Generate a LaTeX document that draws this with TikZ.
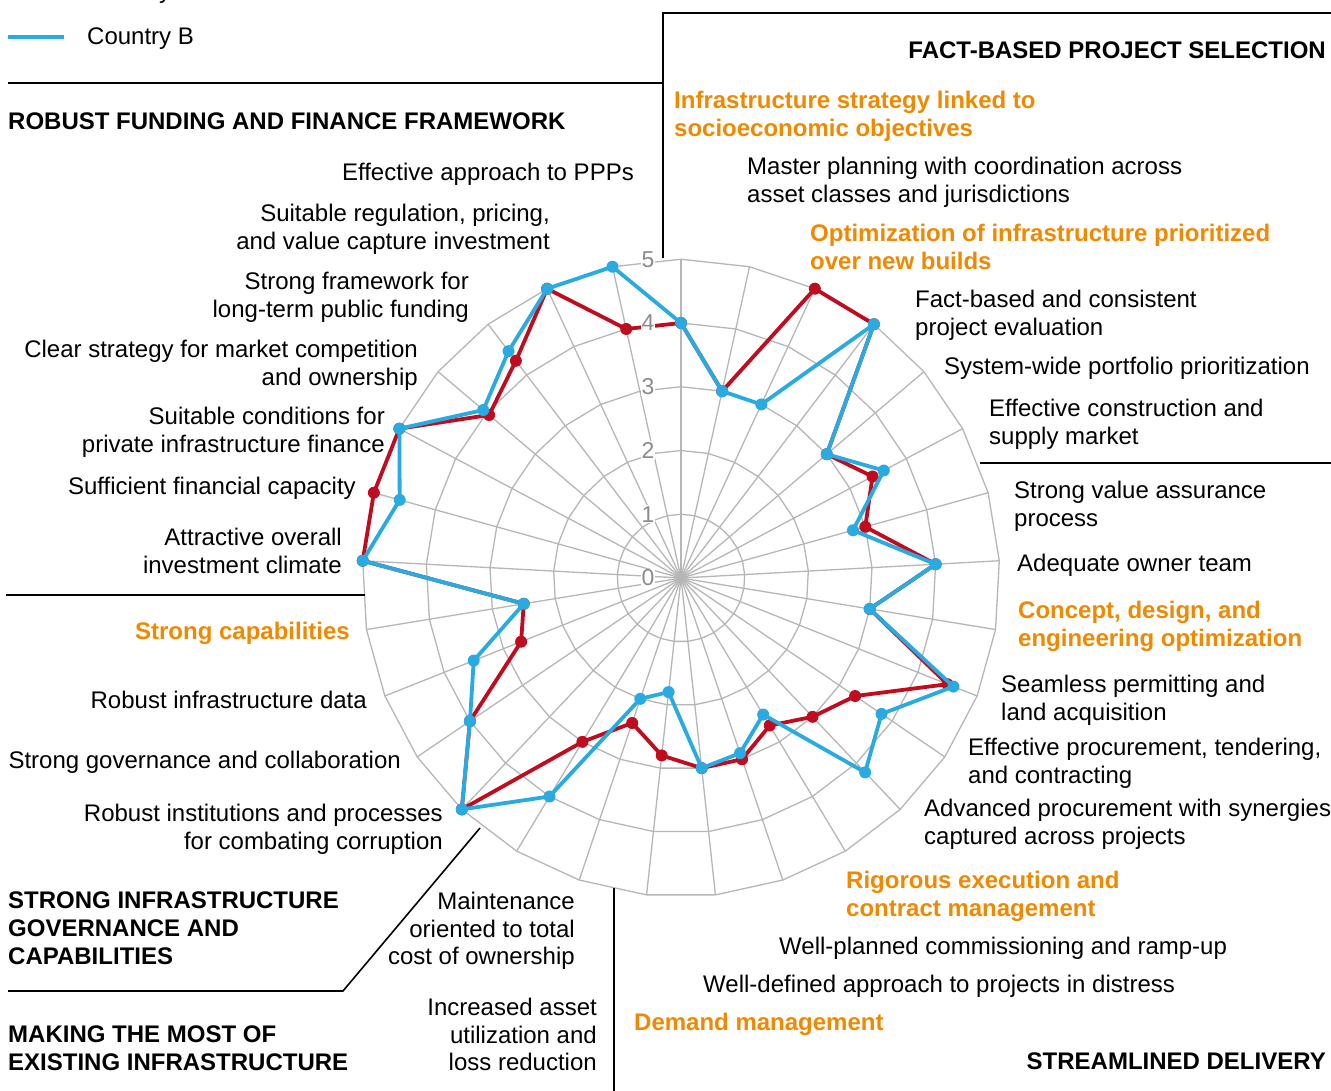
\documentclass[tikz,border=0pt]{standalone}
\usepackage{fontspec}
\setmainfont{Liberation Sans}
\definecolor{cA}{RGB}{192,12,31}
\definecolor{cB}{RGB}{41,170,225}
\definecolor{hiorange}{RGB}{240,136,0}
\definecolor{gridgray}{RGB}{182,182,182}
\definecolor{tickgray}{RGB}{140,140,140}
\tikzset{
  gridline/.style={draw=gridgray, line width=1.3pt},
  dataA/.style={draw=cA, line width=3.8pt, line join=round},
  dataB/.style={draw=cB, line width=3.8pt, line join=round},
  divider/.style={draw=black, line width=1.6pt},
  lbl/.style={font=\fontsize{24}{27.6}\selectfont, inner sep=0pt},
  lbll/.style={lbl, align=left, anchor=north west},
  lblr/.style={lbl, align=right, anchor=north east},
  hilite/.style={text=hiorange, font=\fontsize{24}{27.6}\selectfont\bfseries},
  header/.style={font=\fontsize{24}{27.6}\selectfont\bfseries},
  tick/.style={text=tickgray, font=\fontsize{23}{23}\selectfont, fill=white, inner sep=1pt},
}
\begin{document}
\begin{tikzpicture}[x=1pt,y=-1pt]
  \useasboundingbox (0,0) rectangle (1331,1091);
  \clip (0,0) rectangle (1331,1091);
  \coordinate (O) at (681,578);

  % 网格
  \foreach \r in {1,...,5}
    \draw[gridline, line join=round] plot[samples=30, domain=0:29]
      ({681+63.75*\r*sin(\x*360/29)}, {578-63.75*\r*cos(\x*360/29)});
  \foreach \k in {0,...,28} {
    \coordinate (s\k) at ({681+318.75*sin(\k*360/29)}, {578-318.75*cos(\k*360/29)});
    \draw[gridline] (O) -- (s\k);
  }

  % Country A
  \foreach \v [count=\k from 0] in {4,3,5,5,3,3.4,3.0,4,3,4.5,3.3,3.0,2.7,3.0,3,2.8,2.4,3,5,4,2.7,2.5,5,5,5,3.95,4.28,5,4}
    \coordinate (a\k) at ({681+63.75*\v*sin(\k*360/29)}, {578-63.75*\v*cos(\k*360/29)});
  \draw[dataA] (a0) \foreach \k in {1,...,28} {-- (a\k)} -- cycle;
  \foreach \k in {0,...,28} \fill[cA] (a\k) circle[radius=6pt];

  % Country B
  \foreach \v [count=\k from 0] in {4,3,3,5,3,3.6,2.8,4,3,4.6,3.8,4.2,2.5,2.9,3,1.8,2.0,4,5,4,3.5,2.5,5,4.58,5,4.07,4.47,5,5}
    \coordinate (b\k) at ({681+63.75*\v*sin(\k*360/29)}, {578-63.75*\v*cos(\k*360/29)});
  \draw[dataB] (b0) \foreach \k in {1,...,28} {-- (b\k)} -- cycle;
  \foreach \k in {0,...,28} \fill[cB] (b\k) circle[radius=6pt];

  % 刻度
  \foreach \t in {0,...,5}
    \node[tick] (t\t) at (648,{578-63.75*\t}) {\t};

  % 图例
  \draw[dataA] (8,-9) -- (64,-9);
  \node[lbll] (legA) at (87,-18) {Country A};
  \draw[dataB] (8,37) -- (64,37);
  \node[lbll] (legB) at (87,28) {Country B};

  % 分隔线
  \draw[divider] (8,83) -- (663,83);
  \draw[divider] (663,258) -- (663,13) -- (1331,13);
  \draw[divider] (980,463) -- (1331,463);
  \draw[divider] (6,595) -- (365,595);
  \draw[divider] (480,828) -- (343,991) -- (8,991);
  \draw[divider] (614,888) -- (614,1091);

  % 右侧标签
  \node[lblr, header] (hSel) at (1326,42) {FACT-BASED PROJECT SELECTION};
  \node[lbll, hilite] (l0) at (674,91) {Infrastructure strategy linked to\\socioeconomic objectives};
  \node[lbll] (l1) at (747,157) {Master planning with coordination across\\asset classes and jurisdictions};
  \node[lbll, hilite] (l2) at (810,224) {Optimization of infrastructure prioritized\\over new builds};
  \node[lbll] (l3) at (915,290) {Fact-based and consistent\\project evaluation};
  \node[lbll] (l4) at (944,357) {System-wide portfolio prioritization};
  \node[lbll] (l5) at (989,399) {Effective construction and\\supply market};
  \node[lbll] (l6) at (1014,481) {Strong value assurance\\process};
  \node[lbll] (l7) at (1017,554) {Adequate owner team};
  \node[lbll, hilite] (l8) at (1018,601) {Concept, design, and\\engineering optimization};
  \node[lbll] (l9) at (1001,675) {Seamless permitting and\\land acquisition};
  \node[lbll] (l10) at (968,738) {Effective procurement, tendering,\\and contracting};
  \node[lbll] (l11) at (924,799) {Advanced procurement with synergies\\captured across projects};
  \node[lbll, hilite] (l12) at (846,871) {Rigorous execution and\\contract management};
  \node[lbll] (l13) at (779,937) {Well-planned commissioning and ramp-up};
  \node[lbll] (l14) at (703,975) {Well-defined approach to projects in distress};
  \node[lbll, hilite] (l15) at (634,1013) {Demand management};
  \node[lblr, header] (hDel) at (1326,1053) {STREAMLINED DELIVERY};

  % 左侧标签
  \node[lbll, header] (hFin) at (8,113) {ROBUST FUNDING AND FINANCE FRAMEWORK};
  \node[lblr] (l28) at (634,163) {Effective approach to PPPs};
  \node[lblr] (l27) at (550,204) {Suitable regulation, pricing,\\and value capture investment};
  \node[lblr] (l26) at (469,272) {Strong framework for\\long-term public funding};
  \node[lblr] (l25) at (418,340) {Clear strategy for market competition\\and ownership};
  \node[lblr] (l24) at (385,407) {Suitable conditions for\\private infrastructure finance};
  \node[lblr] (l23) at (356,477) {Sufficient financial capacity};
  \node[lblr] (l22) at (342,528) {Attractive overall\\investment climate};
  \node[lblr, hilite] (l21) at (350,622) {Strong capabilities};
  \node[lblr] (l20) at (367,691) {Robust infrastructure data};
  \node[lblr] (l19) at (401,751) {Strong governance and collaboration};
  \node[lblr] (l18) at (443,804) {Robust institutions and processes\\for combating corruption};
  \node[lbll, header] (hGov) at (8,892) {STRONG INFRASTRUCTURE\\GOVERNANCE AND\\CAPABILITIES};
  \node[lblr] (l17) at (575,892) {Maintenance\\oriented to total\\cost of ownership};
  \node[lbll, header] (hExi) at (8,1026) {MAKING THE MOST OF\\EXISTING INFRASTRUCTURE};
  \node[lblr] (l16) at (597,998) {Increased asset\\utilization and\\loss reduction};
\end{tikzpicture}
\end{document}
